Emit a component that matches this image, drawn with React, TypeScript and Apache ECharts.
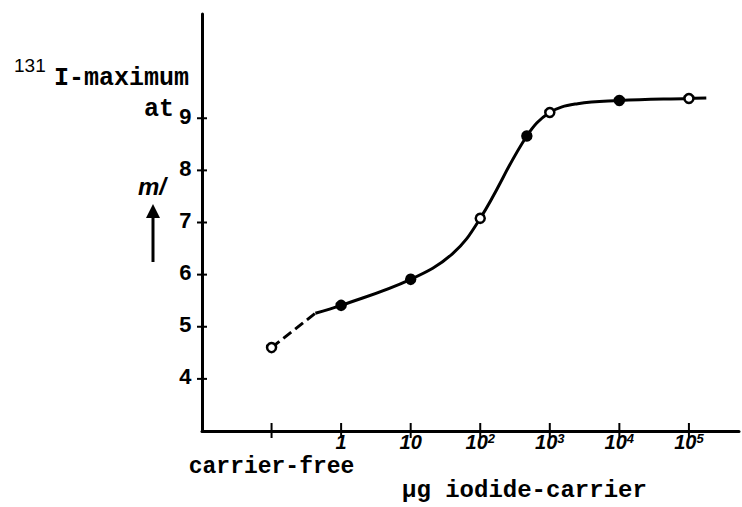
import React, { useEffect, useRef } from "react";
import * as echarts from "echarts";

// ---- data ----
const xTickPos = [0, 1, 2, 3, 4, 5, 6];
const xTickLabels = ["carrier-free", "1", "10", "10^2", "10^3", "10^4", "10^5"];
const yTickVals = [4, 5, 6, 7, 8, 9];

// measured points (x = position on log-carrier axis, carrier-free = 0)
const pointX = [0, 1, 2, 3, 3.67, 4, 5, 6];
const pointY = [4.6, 5.41, 5.91, 7.08, 8.66, 9.11, 9.34, 9.38];
const pointHollow = [true, false, false, true, false, true, false, true];

// dashed start of curve
const dashX = [0, 0.63];
const dashY = [4.6, 5.26];

// hand-drawn solid curve
const curveX = [0.63, 1, 2, 2.6, 3, 3.67, 4, 4.4, 5, 6, 6.25];
const curveY = [5.26, 5.41, 5.91, 6.4, 7.08, 8.66, 9.11, 9.28, 9.34, 9.38, 9.39];

const X_MIN = -1;
const X_MAX = 6.72;
const Y_MIN = 3;
const Y_MAX = 11;

const MONO = "'Liberation Mono', 'DejaVu Sans Mono', monospace";
const SANS = "'Liberation Sans', 'DejaVu Sans', sans-serif";

export default function App() {
  const ref = useRef<HTMLDivElement>(null);

  useEffect(() => {
    if (!ref.current) return;
    const chart = echarts.init(ref.current, undefined, { renderer: "svg" });

    const labelFor = (v: number) => {
      const i = xTickPos.indexOf(v);
      if (i < 0) return "";
      const t = xTickLabels[i];
      if (t === "carrier-free") return ""; // drawn lower, as in the reference
      if (t.indexOf("^") >= 0) {
        const [b, e] = t.split("^");
        return "{n|" + b + "}{s|" + e + "}";
      }
      return "{n|" + t + "}";
    };

    const yTickData = yTickVals.map((v) => [X_MIN, v]);
    const xTickData = xTickPos.map((v) => [v, Y_MIN]);
    const cfData = [[xTickPos[0], Y_MIN]];

    chart.setOption({
      animation: false,
      backgroundColor: "#ffffff",
      grid: { left: 202, right: 2, top: 14, bottom: 76 },
      xAxis: {
        type: "value",
        min: X_MIN,
        max: X_MAX,
        interval: 1,
        splitLine: { show: false },
        axisTick: { show: false },
        axisLine: { show: true, onZero: false, lineStyle: { color: "#000", width: 3 } },
        axisLabel: {
          margin: 4,
          formatter: labelFor,
          color: "#000",
          rich: {
            n: { fontFamily: SANS, fontStyle: "italic", fontWeight: "bold", fontSize: 20, lineHeight: 14, color: "#000" },
            s: { fontFamily: SANS, fontStyle: "italic", fontWeight: "bold", fontSize: 13, lineHeight: 13, color: "#000", padding: [0, 0, 8, 0] },
          },
        },
      },
      yAxis: {
        type: "value",
        min: Y_MIN,
        max: Y_MAX,
        interval: 1,
        splitLine: { show: false },
        axisTick: { show: false },
        axisLine: { show: true, onZero: false, lineStyle: { color: "#000", width: 3 } },
        axisLabel: {
          margin: 10,
          color: "#000",
          fontFamily: MONO,
          fontWeight: "bold",
          fontSize: 22,
          formatter: (v: number) => (yTickVals.indexOf(v) >= 0 ? String(v) : ""),
        },
      },
      graphic: [
        { type: "text", left: 14, top: 56, style: { text: "131", font: "19px " + SANS, fill: "#000" } },
        { type: "text", left: 54, top: 66, style: { text: "I-maximum", font: "bold 25px " + MONO, fill: "#000" } },
        { type: "text", left: 144, top: 97, style: { text: "at", font: "bold 25px " + MONO, fill: "#000" } },
        { type: "text", left: 138, top: 174, style: { text: "m/", font: "italic bold 24px " + SANS, fill: "#000" } },
        { type: "line", shape: { x1: 153, y1: 214, x2: 153, y2: 262 }, style: { stroke: "#000", lineWidth: 3 } },
        { type: "polygon", shape: { points: [[153, 204], [146, 218], [160, 218]] }, style: { fill: "#000" } },
        { type: "text", left: 402, top: 478, style: { text: "µg iodide-carrier", font: "bold 24px " + MONO, fill: "#000" } },
      ],
      series: [
        {
          type: "line",
          data: dashX.map((x, i) => [x, dashY[i]]),
          symbol: "none",
          lineStyle: { color: "#000", width: 3, type: [10, 5] },
          z: 2,
        },
        {
          type: "line",
          data: curveX.map((x, i) => [x, curveY[i]]),
          symbol: "none",
          smooth: 0.4,
          lineStyle: { color: "#000", width: 3 },
          z: 2,
        },
        {
          type: "scatter",
          symbol: "circle",
          symbolSize: 9,
          data: pointX.map((x, i) => ({
            value: [x, pointY[i]],
            itemStyle: {
              color: pointHollow[i] ? "#fff" : "#000",
              borderColor: "#000",
              borderWidth: 2.5,
              opacity: 1,
            },
          })),
          z: 3,
        },
        {
          type: "custom",
          clip: false,
          data: yTickData,
          renderItem: (params: any, api: any) => {
            const p = api.coord([api.value(0), api.value(1)]);
            return {
              type: "line",
              shape: { x1: p[0] - 5, y1: p[1], x2: p[0] + 5, y2: p[1] },
              style: { stroke: "#000", lineWidth: 2 },
            };
          },
          z: 4,
        },
        {
          type: "custom",
          clip: false,
          data: xTickData,
          renderItem: (params: any, api: any) => {
            const p = api.coord([api.value(0), api.value(1)]);
            return {
              type: "line",
              shape: { x1: p[0], y1: p[1] - 8, x2: p[0], y2: p[1] + 7 },
              style: { stroke: "#000", lineWidth: 2 },
            };
          },
          z: 4,
        },
        {
          type: "custom",
          clip: false,
          data: cfData,
          renderItem: (params: any, api: any) => {
            const p = api.coord([api.value(0), api.value(1)]);
            return {
              type: "text",
              x: p[0],
              y: p[1] + 24,
              style: {
                text: xTickLabels[0],
                font: "bold 23px " + MONO,
                fill: "#000",
                align: "center",
                verticalAlign: "top",
              },
            };
          },
          z: 4,
        },
      ],
    });

    return () => chart.dispose();
  }, []);

  return <div ref={ref} style={{ width: 742, height: 507, position: "absolute", left: 0, top: 0 }} />;
}
